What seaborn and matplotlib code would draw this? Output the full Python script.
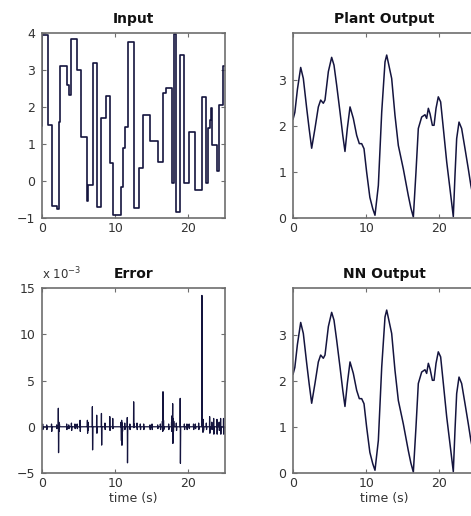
import matplotlib
matplotlib.use("Agg")
import matplotlib.pyplot as plt
import seaborn as sns

# Input signal (step levels, each held until the next time)
input_t = [0.0, 0.05, 0.75, 1.3, 2.0, 2.3, 2.45, 3.45, 3.65, 4.0, 4.8, 5.35, 6.2, 6.25,
           6.9, 7.55, 8.1, 8.7, 9.25, 9.7, 10.8, 11.0, 11.3, 11.75, 12.5, 13.3, 13.85,
           14.75, 15.8, 16.55, 17.0, 17.7, 18.0, 18.35, 18.85, 19.45, 20.1, 20.95, 21.9,
           22.45, 22.7, 22.9, 23.05, 23.2, 23.9, 24.2, 24.7, 25.0]
input_v = [1.5, 3.95, 1.52, -0.68, -0.75, 1.6, 3.1, 2.6, 2.33, 3.85, 3.0, 1.2, -0.55, -0.12,
           3.18, -0.7, 1.7, 2.29, 0.5, -0.93, -0.15, 0.88, 1.45, 3.77, -0.73, 0.35, 1.78,
           1.09, 0.51, 2.38, 2.51, -0.05, 3.98, -0.85, 3.41, -0.05, 1.32, -0.23, 2.26,
           -0.05, 1.43, 1.65, 1.97, 0.98, 0.27, 2.06, 3.1, 3.1]

# Plant output
plant_t = [0.0, 0.25, 0.6, 1.05, 1.41, 1.87, 2.2, 2.55, 3.0, 3.46, 3.78, 4.14, 4.37, 4.83,
           5.28, 5.6, 5.96, 6.42, 6.8, 7.1, 7.42, 7.79, 8.24, 8.7, 9.06, 9.38, 9.7, 10.06,
           10.5, 10.9, 11.2, 11.66, 12.12, 12.57, 12.8, 13.48, 13.93, 14.39, 15.07, 15.75,
           16.1, 16.44, 16.8, 17.12, 17.58, 18.03, 18.26, 18.49, 18.72, 19.04, 19.27, 19.54,
           19.85, 20.17, 20.54, 21.0, 21.45, 21.9, 22.13, 22.36, 22.68, 23.04, 23.5, 23.95,
           24.3, 24.7, 25.0]
plant_v = [2.15, 2.3, 2.8, 3.28, 3.04, 2.39, 1.95, 1.52, 1.95, 2.42, 2.57, 2.5, 2.57, 3.19,
           3.5, 3.33, 2.9, 2.31, 1.8, 1.45, 1.95, 2.42, 2.17, 1.8, 1.62, 1.62, 1.51, 1.0,
           0.45, 0.2, 0.06, 0.71, 2.31, 3.4, 3.55, 3.04, 2.24, 1.58, 1.07, 0.49,
           0.22, 0.02, 1.0, 1.95, 2.2, 2.25, 2.17, 2.39, 2.27, 2.02, 2.02, 2.39,
           2.64, 2.53, 1.95, 1.22, 0.63, 0.03, 0.93, 1.73, 2.09, 1.95, 1.51, 1.07,
           0.71, 0.4, 0.2]

# NN output follows the plant output
nn_t = list(plant_t)
nn_v = list(plant_v)

# Error (x 1e-3), one line per spike burst
error_t = [0.0,
           0.07, 0.09, 0.12, 0.15,
           0.62, 0.64, 0.67, 0.7,
           1.28, 1.3, 1.33, 1.36,
           1.98, 2.0, 2.03, 2.06,
           2.21, 2.23, 2.26, 2.3, 2.34, 2.38, 2.42,
           3.35, 3.37, 3.4, 3.43,
           3.63, 3.65, 3.68, 3.71,
           4.0, 4.02, 4.05, 4.08,
           4.48, 4.5, 4.53, 4.56,
           4.78, 4.8, 4.83, 4.86,
           5.18, 5.2, 5.23, 5.26,
           6.18, 6.2, 6.23, 6.27, 6.3, 6.34,
           6.86, 6.88, 6.91, 6.95,
           7.45, 7.47, 7.5, 7.53,
           8.1, 8.12, 8.15, 8.18,
           8.58, 8.6, 8.63, 8.66,
           9.24, 9.26, 9.29, 9.32,
           9.64, 9.66, 9.69, 9.72,
           10.78, 10.8, 10.85, 10.88, 10.92, 10.96, 11.0, 11.04,
           11.28, 11.3, 11.33, 11.36,
           11.63, 11.65, 11.68, 11.72,
           11.98, 12.0, 12.03, 12.06,
           12.5, 12.52, 12.55, 12.58, 12.62,
           12.96, 12.98, 13.01, 13.04,
           13.41, 13.43, 13.46, 13.49,
           13.87, 13.89, 13.92, 13.95,
           14.73, 14.75, 14.78, 14.81,
           15.01, 15.03, 15.06, 15.09,
           15.78, 15.8, 15.83, 15.86,
           16.15, 16.17, 16.2, 16.23,
           16.43, 16.45, 16.49, 16.53, 16.56, 16.6, 16.64, 16.68,
           17.28, 17.3, 17.33, 17.36,
           17.68, 17.7, 17.74, 17.78, 17.82, 17.85, 17.88, 17.92, 17.96, 18.0, 18.04,
           18.33, 18.35, 18.38, 18.41,
           18.86, 18.88, 18.91, 18.95,
           19.43, 19.45, 19.48, 19.51,
           19.78, 19.8, 19.83, 19.86,
           20.08, 20.1, 20.13, 20.16,
           20.68, 20.7, 20.73, 20.76,
           20.93, 20.95, 20.98, 21.01,
           21.38, 21.4, 21.43, 21.46,
           21.83, 21.85, 21.88, 21.95, 21.99, 22.03, 22.07, 22.11,
           22.43, 22.45, 22.48, 22.51,
           22.88, 22.9, 22.93, 22.96,
           23.18, 23.2, 23.23, 23.26,
           23.43, 23.45, 23.48, 23.51,
           23.88, 23.9, 23.93, 23.96,
           24.18, 24.2, 24.23, 24.26,
           24.38, 24.4, 24.43, 24.46,
           24.78, 24.8, 24.83, 24.86,
           25.0]
error_v = [0.0,
           0.0, 0.3, -0.3, 0.0,
           0.0, 0.2, -0.3, 0.0,
           0.0, 0.3, -0.5, 0.0,
           0.0, 0.2, -0.2, 0.0,
           0.0, 2.0, -2.8, 0.5, -0.5, 0.3, 0.0,
           0.0, 0.3, -0.3, 0.0,
           0.0, 0.2, -0.2, 0.0,
           0.0, 0.4, -0.4, 0.0,
           0.0, 0.3, -0.2, 0.0,
           0.0, 0.3, -0.2, 0.0,
           0.0, 0.7, -0.5, 0.0,
           0.0, 0.7, -0.7, 0.5, -0.4, 0.0,
           0.0, 2.17, -2.5, 0.0,
           0.0, 1.25, -0.7, 0.0,
           0.0, 1.44, -1.98, 0.0,
           0.0, 0.4, -0.3, 0.0,
           0.0, 1.1, -0.4, 0.0,
           0.0, 0.9, -0.2, 0.0,
           0.0, 0.5, -1.5, 0.7, -2.0, 0.4, -0.5, 0.0,
           0.0, 0.4, -0.3, 0.0,
           0.0, 1.0, -3.9, 0.0,
           0.0, 0.3, -0.3, 0.0,
           0.0, 2.7, -0.1, 0.3, 0.0,
           0.0, 0.4, -0.3, 0.0,
           0.0, 0.3, -0.3, 0.0,
           0.0, 0.3, -0.3, 0.0,
           0.0, 0.2, -0.3, 0.0,
           0.0, 0.3, -0.3, 0.0,
           0.0, 0.2, -0.2, 0.0,
           0.0, 0.3, -0.3, 0.0,
           0.0, 0.6, -0.5, 3.79, -0.4, 0.7, -0.3, 0.0,
           0.0, 0.3, -0.3, 0.0,
           0.0, 0.5, -0.5, 1.2, -0.4, 2.5, -1.8, 0.9, -0.5, 0.6, 0.0,
           0.0, 0.4, -0.4, 0.0,
           0.0, 3.07, -3.95, 0.0,
           0.0, 0.3, -0.3, 0.0,
           0.0, 0.3, -0.3, 0.0,
           0.0, 0.3, -0.2, 0.0,
           0.0, 0.3, -0.3, 0.0,
           0.0, 0.3, -0.2, 0.0,
           0.0, 0.4, -0.3, 0.0,
           0.0, 14.2, 0.0, 0.6, -0.6, 0.8, -0.4, 0.0,
           0.0, 0.4, -0.3, 0.0,
           0.0, 1.1, -0.7, 0.0,
           0.0, 0.5, -0.3, 0.0,
           0.0, 0.9, -0.8, 0.0,
           0.0, 0.8, -0.8, 0.0,
           0.0, 0.5, -0.4, 0.0,
           0.0, 0.9, -0.8, 0.0,
           0.0, 0.9, -0.8, 0.0,
           0.0]

sns.set_style("ticks")
plt.rcParams["font.family"] = ["DejaVu Sans"]

line_col = "#14143e"
frame_col = "#6e6e6e"
text_col = "#333333"

fig = plt.figure(figsize=(4.71, 5.16), dpi=100)
ax_in = fig.add_axes([0.0892, 0.5775, 0.3885, 0.3585])
ax_pl = fig.add_axes([0.6221, 0.5775, 0.3885, 0.3585])
ax_er = fig.add_axes([0.0892, 0.0833, 0.3885, 0.3585])
ax_nn = fig.add_axes([0.6221, 0.0833, 0.3885, 0.3585])

sns.lineplot(x=input_t, y=input_v, ax=ax_in, color=line_col, lw=1.2,
             drawstyle="steps-post", estimator=None, sort=False)
sns.lineplot(x=plant_t, y=plant_v, ax=ax_pl, color=line_col, lw=1.1,
             estimator=None, sort=False)
sns.lineplot(x=error_t, y=error_v, ax=ax_er, color=line_col, lw=0.9,
             estimator=None, sort=False)
sns.lineplot(x=nn_t, y=nn_v, ax=ax_nn, color=line_col, lw=1.1,
             estimator=None, sort=False)

titles = {ax_in: "Input", ax_pl: "Plant Output", ax_er: "Error", ax_nn: "NN Output"}
for ax, ttl in titles.items():
    ax.set_xlim(0, 25)
    ax.set_xticks([0, 10, 20])
    ax.set_title(ttl, fontsize=10, fontweight="bold", pad=7, color="#111111")
    ax.tick_params(direction="in", length=3, width=0.8, color=frame_col,
                   labelsize=9, labelcolor=text_col, top=True, right=True)
    ax.tick_params(axis="x", pad=3)
    ax.tick_params(axis="y", pad=5)
    for sp in ax.spines.values():
        sp.set_visible(True)
        sp.set_color(frame_col)
        sp.set_linewidth(1.2)
    ax.set_xlabel("")
    ax.set_ylabel("")

ax_in.set_ylim(-1, 4)
ax_in.set_yticks([-1, 0, 1, 2, 3, 4])
ax_pl.set_ylim(0, 4.03)
ax_pl.set_yticks([0, 1, 2, 3])
ax_nn.set_ylim(0, 4.03)
ax_nn.set_yticks([0, 1, 2, 3])
ax_er.set_ylim(-5, 15)
ax_er.set_yticks([-5, 0, 5, 10, 15])
ax_er.text(0.0, 1.03, "x 10$^{-3}$", transform=ax_er.transAxes, fontsize=8.5,
           color=text_col, ha="left", va="bottom")

for ax in (ax_er, ax_nn):
    ax.set_xlabel("time (s)", fontsize=9, color=text_col, labelpad=1)

fig.savefig("out.png", dpi=100)
